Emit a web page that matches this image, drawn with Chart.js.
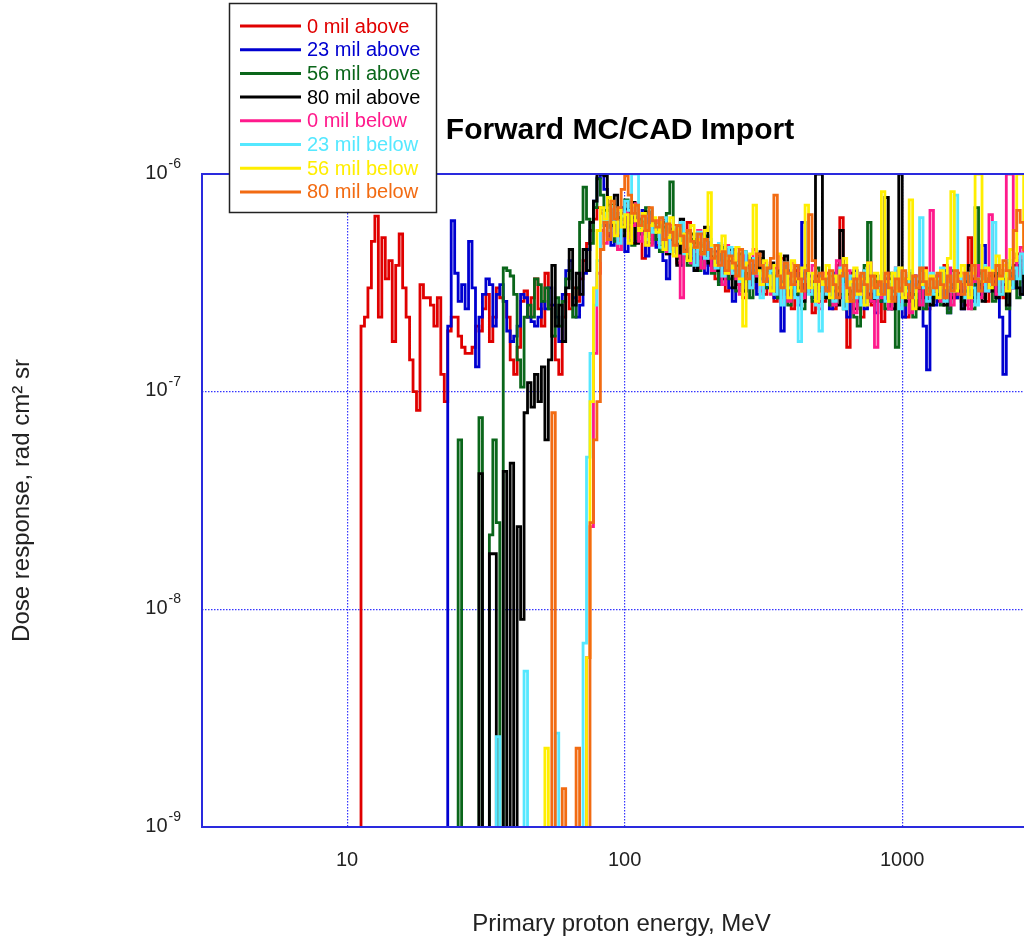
<!DOCTYPE html>
<html>
<head>
<meta charset="utf-8">
<title>Forward MC/CAD Import</title>
<script src="https://cdn.jsdelivr.net/npm/chart.js@4.4.1/dist/chart.umd.min.js"></script>
<style>
  html, body { margin: 0; padding: 0; background: #fff; overflow: hidden; }
  #wrap { position: absolute; left: 0; top: 0; width: 1240px; height: 942px; }
</style>
</head>
<body>
<div id="wrap"><canvas id="c" width="1240" height="942"></canvas></div>
<script>
// Histogram bins: 80 per decade of primary energy, counted from 10 MeV.
const BINS_PER_DECADE = 80;
const GRID_START_MEV = 10;
// Dose values below are in units of 1e-8 rad cm^2 sr; 0 means an empty bin.
const UNIT = 1e-8;

const seriesLabels = ['0 mil above', '23 mil above', '56 mil above', '80 mil above',
                      '0 mil below', '23 mil below', '56 mil below', '80 mil below'];
const seriesColors = ['#e00000', '#0000d0', '#0a661a', '#000000',
                      '#ff1a8c', '#55e8ff', '#ffee00', '#f26b12'];
const seriesFirstBin = [4, 29, 32, 38, 69, 43, 57, 59];

const mil0Above = [
  20, 22, 30, 49, 64, 22, 51, 33, 40, 17,
  38, 53, 30, 22, 14, 10, 8.2, 31, 27, 27,
  25, 20, 27, 12, 9, 19, 22, 22, 18, 16,
  15, 15, 16, 20, 19, 24, 28, 17, 22, 30,
  27, 26, 22, 14, 12, 16, 26, 29, 22, 27,
  33, 24, 20, 35, 25, 18, 14, 12, 22, 28,
  24, 30, 26, 33, 40, 48, 55, 62, 70, 66,
  58,
  52, 70, 61, 45, 66, 74, 55, 48, 63, 58, 41, 67, 52, 60,
  47, 55, 62, 43, 50, 58, 39, 52, 46, 60, 41, 48, 37, 53, 44, 38,
  42, 33, 47, 36, 29, 40, 45, 31, 38, 27, 41, 35, 30, 43, 33, 28,
  37, 30, 26, 35, 41, 28, 33, 24, 36, 31, 27, 38, 29, 23, 34, 30,
  26, 35, 30, 24, 38, 63, 31, 16, 27, 33, 29, 22, 36, 28, 25, 32,
  27, 21, 33, 29, 24, 36, 26, 30, 22, 34, 28, 25, 31, 37, 24, 29,
  33, 26, 30, 38, 24, 31, 27, 35, 29, 25, 51, 33, 28, 36, 30, 26,
  34, 29, 38, 31, 27, 40, 35, 30, 43, 36, 32, 41, 38, 35, 44, 39
];

const mil23Above = [
  20, 61, 35, 26, 31, 24, 49, 30, 13, 22,
  28, 33, 31, 20, 28, 31, 26, 19, 17, 18,
  20, 28, 27, 22, 21, 20, 22, 26, 24, 30,
  25, 22, 17, 28, 36, 40, 27, 22, 25, 35,
  45, 60, 75, 96,
  100, 85, 58, 47, 66, 52, 70, 44, 57, 63, 49, 55, 68, 42, 53, 60,
  46, 51, 40, 33, 44, 56, 48, 38, 53, 42, 47, 36, 50, 41, 35, 45,
  38, 44, 32, 37, 41, 30, 26, 39, 34, 29, 42, 31, 36, 28, 33, 38,
  30, 35, 27, 33, 19, 31, 36, 28, 32, 25, 60, 29, 34, 27, 31, 26,
  32, 28, 24, 35, 30, 27, 33, 22, 29, 36, 26, 31, 24, 34, 28, 23,
  30, 26, 33, 24, 29, 35, 27, 22, 31, 28, 34, 25, 30, 20, 12.6, 27,
  25, 33, 28, 36, 23, 30, 27, 32, 24, 29, 35, 26, 31, 28, 47, 33,
  29, 36, 27, 22, 12, 18, 34, 30, 38, 28, 33, 40, 31, 36, 29, 42
];

const mil56Above = [
  6, 0, 0, 0, 0, 0, 7.6, 0, 0, 2.2,
  6, 2.5, 0, 37, 36, 34, 28, 14, 10.5, 22,
  25, 22, 33, 31, 26, 30, 24, 18, 27, 20,
  26, 33, 36, 22, 30, 60, 87, 62, 48, 70, 95,
  80, 68, 57, 72, 49, 63, 55, 76, 60, 47, 66, 53, 61, 70, 48, 58,
  50, 44, 57, 66, 92, 48, 41, 53, 45, 38, 50, 43, 36, 47, 52, 40,
  35, 42, 31, 46, 38, 33, 40, 29, 36, 44, 32, 27, 38, 34, 41, 30,
  36, 29, 34, 27, 32, 38, 25, 31, 28, 35, 24, 33, 30, 26, 37, 29,
  27, 33, 25, 31, 36, 28, 24, 30, 34, 22, 20, 29, 38, 60, 27, 32,
  26, 31, 24, 35, 28, 16, 30, 25, 33, 27, 22, 31, 36, 24, 29, 33,
  27, 34, 25, 30, 23, 36, 28, 32, 26, 29, 35, 24, 70, 31, 27, 33,
  30, 26, 35, 28, 33, 24, 37, 31, 27, 40, 33, 29, 38, 34, 45, 36
];

const mil80Above = [
  4.2, 0, 0, 1.8, 1.8, 0, 0, 4.3, 0, 4.7,
  0, 2.4, 0.9, 8, 11, 8.5, 12, 9, 13, 6,
  14, 38, 20, 25, 17, 30, 45, 25, 35, 28,
  45, 36, 60, 75, 100, 100, 98,
  72, 58, 80, 63, 52, 69, 57, 74, 48, 62, 55, 67, 50, 59,
  54, 47, 60, 43, 56, 50, 38, 62, 45, 41, 53, 36, 48, 44, 57, 39,
  42, 36, 47, 33, 40, 45, 30, 38, 43, 29, 35, 41, 32, 37, 44, 31,
  34, 39, 28, 36, 31, 42, 27, 33, 38, 30, 26, 35, 29, 32, 100, 100,
  30, 27, 34, 29, 25, 55, 32, 28, 35, 24, 31, 27, 33, 29, 26, 34,
  30, 27, 78, 33, 24, 29, 100, 31, 26, 35, 28, 24, 32, 27, 30, 25,
  33, 28, 36, 25, 31, 27, 34, 29, 24, 32, 38, 27, 30, 35, 26, 31,
  29, 34, 27, 36, 31, 25, 33, 38, 30, 28, 35, 41, 32, 37, 30, 43
];

const mil0Below = [
  0.6, 2.4, 15, 35, 55, 48,
  62, 70, 53, 45, 60, 67, 51, 58, 73, 49, 56, 64, 47, 55,
  61, 48, 53, 44, 58, 50, 42, 27, 46, 52, 39, 44, 55, 37, 48, 41,
  36, 43, 39, 31, 47, 35, 40, 33, 28, 42, 37, 30, 45, 34, 29, 39,
  33, 28, 37, 42, 30, 35, 26, 39, 31, 36, 27, 33, 29, 38, 32, 24,
  35, 29, 33, 25, 40, 31, 27, 36, 30, 23, 34, 28, 32, 39, 26, 16,
  31, 27, 35, 24, 30, 37, 26, 32, 28, 23, 34, 29, 25, 36, 31, 68,
  29, 34, 26, 31, 37, 25, 33, 28, 35, 30, 24, 32, 38, 27, 31, 29,
  65, 33, 28, 36, 30, 100, 100, 41, 35, 46, 38, 33, 42, 50, 37, 45
];

const mil23Below = [
  0.26, 0, 0, 0, 0, 0, 0, 0, 0.52, 0,
  0, 0, 0, 0, 0, 0, 0, 0.27, 0, 0,
  0, 0, 0, 0, 0, 0.7, 5, 15, 25, 40,
  58, 66,
  55, 71, 60, 48, 64, 75, 68, 100, 100, 57, 62, 50, 69, 54,
  58, 46, 63, 51, 44, 57, 49, 60, 43, 52, 47, 38, 54, 45, 41, 50,
  43, 37, 48, 34, 41, 46, 35, 39, 32, 44, 36, 30, 41, 35, 27, 38,
  31, 36, 28, 34, 25, 39, 30, 33, 27, 17, 32, 36, 28, 31, 25, 19,
  33, 28, 35, 26, 31, 37, 24, 30, 34, 27, 32, 25, 36, 29, 33, 27,
  30, 35, 26, 32, 28, 37, 24, 31, 29, 36, 27, 33, 63, 30, 26, 35,
  28, 33, 37, 26, 31, 29, 80, 34, 32, 27, 35, 30, 25, 33, 38, 29,
  31, 60, 36, 28, 34, 40, 30, 37, 33, 43, 35, 39, 31, 46, 38, 41
];

const mil56Below = [
  0.23, 0, 0, 0, 0, 0, 0, 0, 0, 0,
  0, 0, 0.6, 9, 30, 55, 70, 62,
  78, 60, 52, 69, 57, 65, 48, 72, 61, 55, 66, 47, 58, 63,
  54, 60, 45, 51, 63, 42, 56, 48, 53, 40, 58, 46, 50, 43, 55, 82,
  47, 38, 44, 52, 35, 41, 37, 46, 33, 20, 39, 43, 72, 36, 31, 40,
  34, 29, 38, 43, 31, 36, 27, 40, 33, 29, 37, 72, 30, 35, 26, 33,
  31, 38, 27, 34, 29, 36, 41, 26, 32, 37, 28, 33, 25, 39, 30, 35,
  28, 83, 32, 26, 35, 29, 37, 27, 33, 76, 24, 30, 31, 36, 28, 34,
  33, 27, 36, 30, 41, 83, 29, 34, 38, 31, 27, 35, 100, 100, 32, 37,
  30, 36, 42, 33, 38, 29, 45, 40, 100, 100, 48, 37, 44, 52, 39, 46
];

const mil80Below = [
  8, 0, 0, 0.15, 0, 0, 0, 0.23, 0, 0,
  0, 2.5, 6, 9, 45, 60,
  50, 75, 62, 70, 85, 98, 80, 66, 72, 58, 64, 55, 70, 61,
  57, 63, 50, 59, 54, 47, 58, 52, 44, 55, 49, 46, 53, 43, 50, 45,
  41, 47, 38, 44, 36, 42, 39, 34, 45, 37, 33, 40, 35, 43, 38, 32,
  37, 41, 80, 34, 30, 39, 35, 31, 38, 33, 29, 36, 65, 40, 32, 35,
  33, 29, 36, 31, 27, 34, 38, 30, 26, 33, 29, 35, 31, 27, 34, 30,
  32, 28, 35, 30, 26, 33, 29, 36, 31, 27, 34, 30, 37, 32, 28, 33,
  30, 35, 31, 27, 34, 29, 36, 32, 28, 35, 31, 38, 33, 29, 36, 32,
  35, 31, 38, 34, 40, 36, 33, 55, 68, 60, 45, 52, 58, 48, 62, 55
];

const seriesValues = [mil0Above, mil23Above, mil56Above, mil80Above,
                      mil0Below, mil23Below, mil56Below, mil80Below];

const xTickValues = [10, 100, 1000];
const yTickExponents = [-9, -8, -7, -6];

const FONT = "'Liberation Sans', Arial, Helvetica, sans-serif";
const AXIS_BLUE = '#2a2ade';
const GRID_BLUE = '#3535ff';
const FLOOR = 1e-12; // empty bins fall below the plotted range

function binEnergy(k) {
  return GRID_START_MEV * Math.pow(10, k / BINS_PER_DECADE);
}

// Step-histogram points: rise from the floor at the first bin edge,
// one point per bin left edge, closing at the last bin's right edge.
function histogramPoints(values, firstBin) {
  const pts = [{ x: binEnergy(firstBin), y: FLOOR }];
  values.forEach((v, i) => {
    pts.push({ x: binEnergy(firstBin + i), y: v > 0 ? v * UNIT : FLOOR });
  });
  pts.push({ x: binEnergy(firstBin + values.length), y: pts[pts.length - 1].y });
  return pts;
}

const datasets = seriesValues.map((vals, i) => ({
  label: seriesLabels[i],
  data: histogramPoints(vals, seriesFirstBin[i]),
  borderColor: seriesColors[i],
  backgroundColor: seriesColors[i],
  borderWidth: 2.8,
  pointRadius: 0,
  stepped: 'before',
  fill: false,
  tension: 0,
  borderJoinStyle: 'miter',
  borderCapStyle: 'butt',
  order: seriesValues.length - 1 - i
}));

// Plot frame, decade labels with superscript exponents, and the boxed key.
const decorations = {
  id: 'decorations',
  afterDatasetsDraw(chart) {
    const { ctx, chartArea: a } = chart;
    ctx.save();
    ctx.strokeStyle = AXIS_BLUE;
    ctx.lineWidth = 2;
    ctx.strokeRect(a.left, a.top, a.right - a.left, a.bottom - a.top);
    ctx.restore();
  },
  afterDraw(chart) {
    const { ctx } = chart;
    const y = chart.scales.y;
    ctx.save();
    ctx.fillStyle = '#222';
    yTickExponents.forEach(e => {
      const py = y.getPixelForValue(Math.pow(10, e));
      const exp = String(e);
      const right = 181;
      ctx.font = '14px ' + FONT;
      const ew = ctx.measureText(exp).width;
      ctx.textAlign = 'left';
      ctx.textBaseline = 'middle';
      ctx.fillText(exp, right - ew, py - 10);
      ctx.font = '20px ' + FONT;
      ctx.textAlign = 'right';
      ctx.fillText('10', right - ew - 1, py - 1);
    });

    // key
    const bx = 229, by = 3, bw = 208, bh = 210;
    ctx.fillStyle = '#fff';
    ctx.fillRect(bx, by, bw, bh);
    ctx.strokeStyle = '#222';
    ctx.lineWidth = 1.5;
    ctx.strokeRect(bx + 0.5, by + 0.5, bw - 1, bh - 1);
    ctx.font = '20px ' + FONT;
    ctx.textAlign = 'left';
    ctx.textBaseline = 'middle';
    chart.data.datasets.forEach((ds, i) => {
      const ry = 26 + 23.7 * i;
      ctx.strokeStyle = ds.borderColor;
      ctx.lineWidth = 3;
      ctx.beginPath();
      ctx.moveTo(240, ry);
      ctx.lineTo(301, ry);
      ctx.stroke();
      ctx.fillStyle = ds.borderColor;
      ctx.fillText(ds.label, 307, ry + 1);
    });
    ctx.restore();
  }
};

Chart.defaults.font.family = FONT;

new Chart(document.getElementById('c'), {
  type: 'line',
  data: { datasets },
  options: {
    responsive: false,
    animation: false,
    devicePixelRatio: 1,
    layout: { padding: 0 },
    plugins: {
      legend: { display: false },
      tooltip: { enabled: false },
      title: {
        display: true,
        text: 'Forward MC/CAD Import',
        color: '#000',
        font: { size: 30, weight: 'bold', family: FONT },
        padding: { top: 113, bottom: 25 }
      }
    },
    scales: {
      x: {
        type: 'logarithmic',
        min: 3,
        max: 3162.3,
        afterBuildTicks(s) { s.ticks = xTickValues.map(v => ({ value: v })); },
        afterFit(s) { s.height = 115; },
        ticks: {
          callback: v => String(v),
          color: '#222',
          font: { size: 20, family: FONT },
          padding: 21,
          autoSkip: false,
          maxRotation: 0
        },
        grid: { color: GRID_BLUE, lineWidth: 1.2, drawTicks: false },
        border: { display: false, dash: [1.5, 1.5] },
        title: {
          display: true,
          text: 'Primary proton energy, MeV',
          color: '#222',
          font: { size: 24, family: FONT },
          padding: { top: 0, bottom: 3 }
        }
      },
      y: {
        type: 'logarithmic',
        min: 1e-9,
        max: 1e-6,
        afterBuildTicks(s) { s.ticks = yTickExponents.map(e => ({ value: Math.pow(10, e) })); },
        afterFit(s) { s.width = 202; },
        ticks: { display: false },
        grid: { color: GRID_BLUE, lineWidth: 1.2, drawTicks: false },
        border: { display: false, dash: [1.5, 1.5] },
        title: {
          display: true,
          text: 'Dose response, rad cm² sr',
          color: '#222',
          font: { size: 24, family: FONT },
          padding: { top: 8, bottom: 0 }
        }
      },
      rightMargin: {
        type: 'linear',
        axis: 'y',
        position: 'right',
        display: true,
        grid: { display: false, drawTicks: false },
        ticks: { display: false },
        border: { display: false },
        afterFit(s) { s.width = 199; }
      }
    }
  },
  plugins: [decorations]
});
</script>
</body>
</html>
